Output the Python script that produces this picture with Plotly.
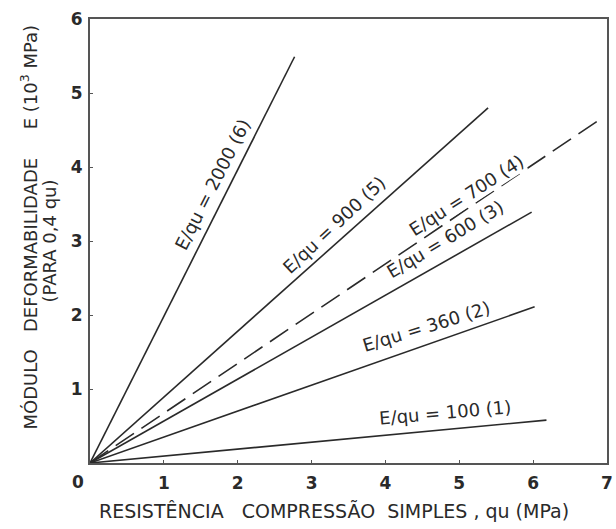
import plotly.graph_objects as go

# Data
ratio_labels = ["E/qu = 100 (1)", "E/qu = 360 (2)", "E/qu = 600 (3)",
                "E/qu = 700 (4)", "E/qu = 900 (5)", "E/qu = 2000 (6)"]
qu_end = [6.18, 6.02, 5.98, 6.87, 5.39, 2.77]      # qu (MPa) at end of each line
E_end = [0.58, 2.11, 3.39, 4.62, 4.80, 5.49]        # E (10^3 MPa) at end of each line
dashed = [False, False, False, True, False, False]

# label anchor positions (data coords) and angles
label_x = [4.80, 4.55, 4.80, 5.09, 3.31, 1.66]
label_y = [0.68, 1.85, 3.02, 3.62, 3.22, 3.76]
label_angle = [-5, -17, -31, -33, -43, -63]

x_ticks = [1, 2, 3, 4, 5, 6, 7]
y_ticks = [1, 2, 3, 4, 5, 6]

FONT = "DejaVu Sans"
INK = "#2a2a2a"

fig = go.Figure()
for i in range(len(qu_end)):
    fig.add_trace(go.Scatter(
        x=[0, qu_end[i]], y=[0, E_end[i]], mode="lines",
        line=dict(color=INK, width=1.6,
                  dash="22px,9px" if dashed[i] else "solid"),
        showlegend=False, hoverinfo="skip"))

annotations = []
for i in range(len(ratio_labels)):
    annotations.append(dict(
        x=label_x[i], y=label_y[i], xref="x", yref="y",
        xanchor="center", yanchor="middle",
        text=ratio_labels[i], showarrow=False, textangle=label_angle[i],
        font=dict(family=FONT, size=18, color=INK),
        bgcolor="white" if dashed[i] else None, borderpad=0))

annotations.append(dict(x=0, y=0, xref="x", yref="y", text="0", showarrow=False,
                        xanchor="center", yanchor="top", xshift=-12, yshift=-7,
                        font=dict(family=FONT, size=17, color=INK, weight="bold")))
annotations.append(dict(
    x=-0.117, y=0.5315, xref="paper", yref="paper", textangle=-90,
    xanchor="center", yanchor="middle",
    text=("MÓDULO&nbsp;&nbsp;&nbsp;DEFORMABILIDADE&nbsp;&nbsp;&nbsp;&nbsp;&nbsp;"
          "E (10<sup>3</sup> MPa)"),
    showarrow=False, font=dict(family=FONT, size=18, color=INK)))
annotations.append(dict(
    x=0.472, y=-0.108, xref="paper", yref="paper",
    xanchor="center", yanchor="middle",
    text="RESISTÊNCIA&nbsp;&nbsp;&nbsp;COMPRESSÃO&nbsp;&nbsp;SIMPLES&nbsp;,&nbsp;qu&nbsp;(MPa)",
    showarrow=False, font=dict(family=FONT, size=19, color=INK)))

axis_common = dict(showline=True, mirror=True, linecolor="#555", linewidth=2,
                   showgrid=False, zeroline=False, ticks="inside", ticklen=3,
                   tickcolor="#555", ticklabeloverflow="allow",
                   tickfont=dict(family=FONT, size=17, color=INK, weight="bold"))

fig.update_layout(
    width=616, height=529, autosize=False,
    margin=dict(l=90, r=3, t=19, b=66),
    paper_bgcolor="white", plot_bgcolor="white",
    xaxis=dict(range=[0, 7], tickvals=x_ticks, ticktext=[str(v) for v in x_ticks],
               ticklabelstandoff=4, **axis_common),
    yaxis=dict(range=[0, 6], tickvals=y_ticks, ticktext=[str(v) for v in y_ticks],
               ticklabelstandoff=2, automargin=False,
               title=dict(text="(PARA 0,4 qu)", standoff=9,
                          font=dict(family=FONT, size=18, color=INK)),
               **axis_common),
    annotations=annotations,
)

fig.write_html("out.html")
